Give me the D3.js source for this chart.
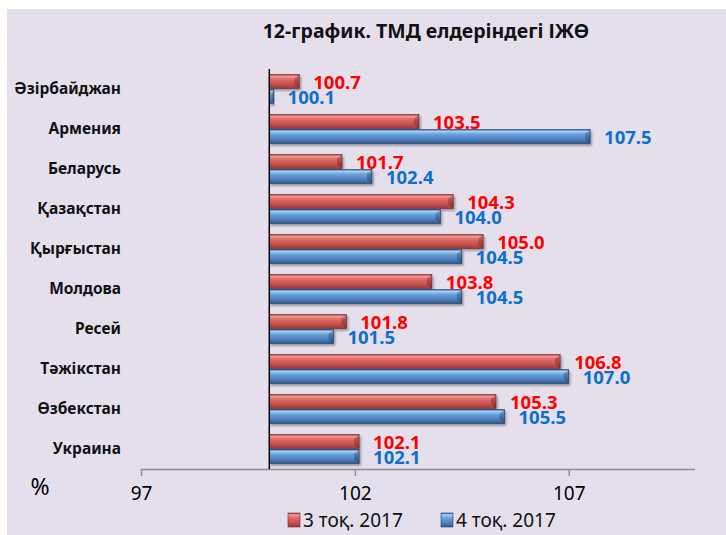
<!DOCTYPE html>
<html>
<head>
<meta charset="utf-8">
<script src="https://cdn.jsdelivr.net/npm/d3@7"></script>
<style>
  html,body{margin:0;padding:0;background:#fff;}
  svg{display:block;}
  text{font-family:"Noto Sans","Open Sans",sans-serif;}
</style>
</head>
<body>
<div id="chart"></div>
<script>
const countries=["Әзірбайджан","Армения","Беларусь","Қазақстан","Қырғыстан","Молдова","Ресей","Тәжікстан","Өзбекстан","Украина"];
const q3=[100.7,103.5,101.7,104.3,105.0,103.8,101.8,106.8,105.3,102.1];
const q4=[100.1,107.5,102.4,104.0,104.5,104.5,101.5,107.0,105.5,102.1];
const ticks=[97,102,107];
const seriesNames=["3 тоқ. 2017","4 тоқ. 2017"];

(function(){
  const W=726,H=535;
  const svg=d3.select("#chart").append("svg").attr("width",W).attr("height",H);
  const defs=svg.append("defs");

  // bevel-ish gradients
  const grads={
    red:["#8e3432","#f29a97","#e06a66","#c9504c","#963a37"],
    blue:["#2f5a8c","#a6d2fa","#6aa0dc","#4f82c0","#2f5a8c"]
  };
  for(const k in grads){
    const g=defs.append("linearGradient").attr("id","g-"+k)
      .attr("x1",0).attr("y1",0).attr("x2",0).attr("y2",1);
    const c=grads[k];
    [[0,c[0]],[0.12,c[1]],[0.35,c[2]],[0.7,c[3]],[1,c[4]]].forEach(s=>
      g.append("stop").attr("offset",s[0]).attr("stop-color",s[1]));
  }
  const f=defs.append("filter").attr("id","shadow").attr("x","-5%").attr("y","-20%").attr("width","115%").attr("height","160%");
  f.append("feDropShadow").attr("dx",1.5).attr("dy",2).attr("stdDeviation",1.2)
    .attr("flood-color","#000").attr("flood-opacity",0.35);

  svg.append("rect").attr("x",7).attr("y",9).attr("width",W-7).attr("height",H-9).attr("fill","#e5dfec");

  svg.append("text").attr("x",426).attr("y",38).attr("text-anchor","middle")
    .attr("font-size",19.5).attr("font-weight","bold").attr("fill","#111")
    .text("12-график. ТМД елдеріндегі ІЖӨ");

  const x=d3.scaleLinear().domain([97,110]).range([141,697]);
  const y=d3.scaleBand().domain(countries).range([69,469]).paddingInner(0.25).paddingOuter(0.125);
  const sub=d3.scaleBand().domain([0,1]).range([0,y.bandwidth()]);

  // axis
  const ax=svg.append("g").attr("transform","translate(0,469)")
    .call(d3.axisBottom(x).tickValues(ticks).tickSize(7).tickPadding(11).tickFormat(d3.format("d")));
  ax.select(".domain").attr("stroke","#8c8c8c").attr("stroke-width",1.5).attr("d","M141,0.5H695");
  ax.selectAll(".tick line").attr("stroke","#8c8c8c").attr("stroke-width",1.5);
  ax.selectAll(".tick text").attr("font-size",19).attr("fill","#000")
    .attr("font-family","'Liberation Sans Narrow','Noto Sans',sans-serif");
  svg.append("text").attr("x",40).attr("y",495).attr("text-anchor","middle")
    .attr("font-size",23).attr("fill","#000").text("%");

  // category labels
  svg.append("g").selectAll("text").data(countries).join("text")
    .attr("x",121).attr("y",d=>y(d)+y.bandwidth()/2).attr("dy","0.35em")
    .attr("text-anchor","end").attr("font-size",15.5).attr("font-weight","bold").attr("fill","#111")
    .text(d=>d);

  const rows=[];
  countries.forEach((c,i)=>{
    rows.push({c,s:0,v:q3[i],col:"red",lab:"#ff0000"});
    rows.push({c,s:1,v:q4[i],col:"blue",lab:"#0b6fd0"});
  });
  const x0=x(100);

  const bars=svg.append("g").selectAll("g").data(rows).join("g")
    .attr("transform",d=>`translate(0,${y(d.c)+sub(d.s)})`);
  bars.append("rect").attr("x",x0).attr("y",0.5)
    .attr("width",d=>x(d.v)-x0).attr("height",sub.bandwidth()-1)
    .attr("fill",d=>`url(#g-${d.col})`).attr("filter","url(#shadow)")
    .attr("stroke",d=>d.col==="red"?"#6e2a28":"#1f3f66").attr("stroke-width",0.6);
  // right-end bevel
  bars.append("path")
    .attr("d",d=>{const e=x(d.v),h=sub.bandwidth()-1,b=Math.min(5,(e-x0)/2);
      return `M${e},0.5L${e-b},${0.5+h*0.3}L${e-b},${0.5+h*0.7}L${e},${0.5+h}Z`;})
    .attr("fill","#000").attr("opacity",0.22);
  bars.append("text")
    .attr("x",d=>x(d.v)+14).attr("y",sub.bandwidth()/2+1).attr("dy","0.36em")
    .attr("font-size",18.5).attr("font-weight","bold").attr("fill",d=>d.lab)
    .text(d=>d.v.toFixed(1));

  // zero line at 100
  svg.append("line").attr("x1",x0).attr("x2",x0).attr("y1",69).attr("y2",469)
    .attr("stroke","#000").attr("stroke-width",1.5);

  // legend
  const leg=svg.append("g").selectAll("g").data(seriesNames).join("g")
    .attr("transform",(d,i)=>`translate(${i?441:288},513)`);
  leg.append("rect").attr("width",12).attr("height",14)
    .attr("fill",(d,i)=>`url(#g-${i?"blue":"red"})`)
    .attr("stroke",(d,i)=>i?"#1f3f66":"#6e2a28").attr("stroke-width",0.6);
  leg.append("text").attr("x",15).attr("y",7).attr("dy","0.36em")
    .attr("font-size",19).attr("fill","#111")
    .attr("font-family","'Liberation Sans Narrow','Noto Sans',sans-serif")
    .text(d=>d);
})();
</script>
</body>
</html>
